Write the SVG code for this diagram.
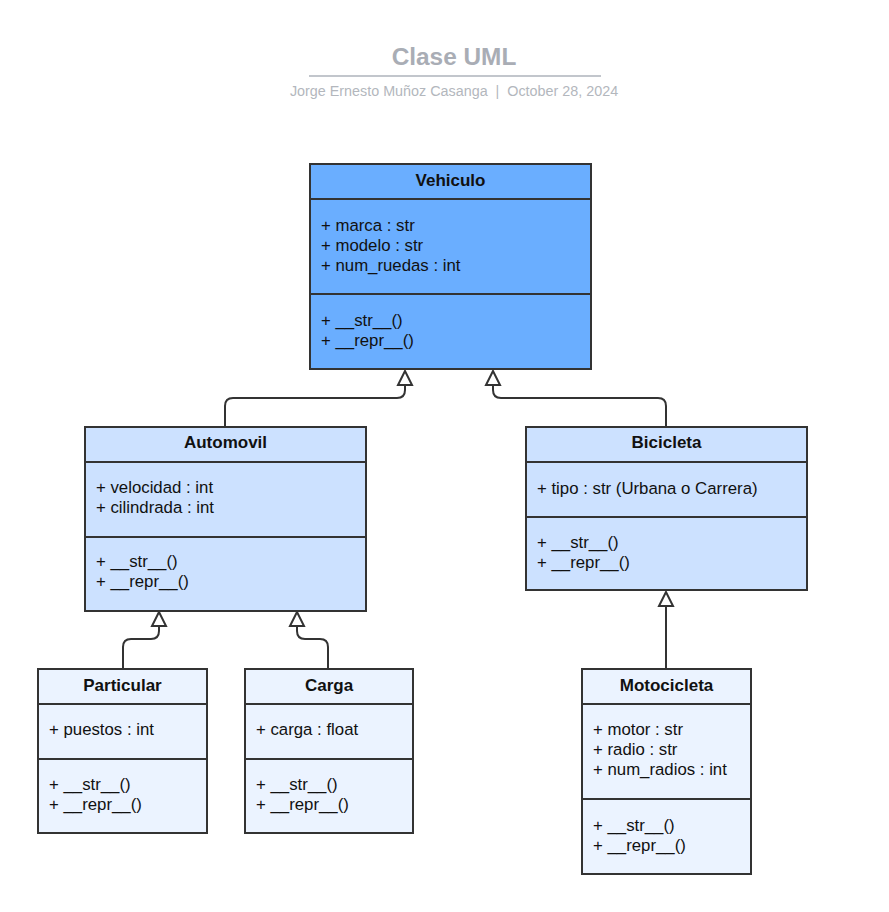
<svg xmlns="http://www.w3.org/2000/svg" width="889" height="912" viewBox="0 0 889 912">
<style>
text{font-family:"Liberation Sans",Arial,sans-serif;fill:#111;}
.t{font-size:17px;font-weight:bold;text-anchor:middle;}
.a{font-size:16.8px;}
.box{stroke:#333;stroke-width:2;}
.div{stroke:#333;stroke-width:2;}
.c1{fill:#6aaeff;}
.c2{fill:#cce1ff;}
.c3{fill:#ebf3ff;}
.conn{fill:none;stroke:#333;stroke-width:2;}
.head{fill:#fff;stroke:#333;stroke-width:2;stroke-linejoin:miter;}
</style>
<rect width="889" height="912" fill="#fff"/>
<g id="title">
<text x="454" y="65" style="font-size:24.4px;font-weight:bold;fill:#a9adb5;text-anchor:middle">Clase UML</text>
<line x1="309" y1="76" x2="601" y2="76" stroke="#c2c6cc" stroke-width="2"/>
<text x="454" y="96" style="font-size:14.35px;fill:#b3b7bd;text-anchor:middle;white-space:pre" xml:space="preserve">Jorge Ernesto Muñoz Casanga  |  October 28, 2024</text>
</g>
<g id="connectors">
<path class="conn" d="M225,427 V406 Q225,398 233,398 H397 Q405,398 405,390 V385"/>
<polygon class="head" points="405,371 398,385 412,385"/>
<path class="conn" d="M666,427 V406 Q666,398 658,398 H501 Q493,398 493,390 V385"/>
<polygon class="head" points="493,371 486,385 500,385"/>
<path class="conn" d="M123,668 V647 Q123,639 131,639 H151 Q159,639 159,631 V626"/>
<polygon class="head" points="159,612 152,626 166,626"/>
<path class="conn" d="M328,668 V647 Q328,639 320,639 H305 Q297,639 297,631 V626"/>
<polygon class="head" points="297,612 290,626 304,626"/>
<path class="conn" d="M666,668 V606"/>
<polygon class="head" points="666,592 659,606 673,606"/>
</g>
<g id="Vehiculo">
<rect class="box c1" x="310" y="164" width="281" height="205"/>
<line class="div" x1="310" y1="199" x2="591" y2="199"/>
<line class="div" x1="310" y1="294" x2="591" y2="294"/>
<text class="t" x="450.5" y="186">Vehiculo</text>
<text class="a" x="321" y="231">+ marca : str</text>
<text class="a" x="321" y="251">+ modelo : str</text>
<text class="a" x="321" y="271">+ num_ruedas : int</text>
<text class="a" x="321" y="326">+ __str__()</text>
<text class="a" x="321" y="346">+ __repr__()</text>
</g>
<g id="Automovil">
<rect class="box c2" x="85" y="427" width="281" height="184"/>
<line class="div" x1="85" y1="462" x2="366" y2="462"/>
<line class="div" x1="85" y1="537" x2="366" y2="537"/>
<text class="t" x="225.5" y="448">Automovil</text>
<text class="a" x="96" y="493">+ velocidad : int</text>
<text class="a" x="96" y="513">+ cilindrada : int</text>
<text class="a" x="96" y="567">+ __str__()</text>
<text class="a" x="96" y="587">+ __repr__()</text>
</g>
<g id="Bicicleta">
<rect class="box c2" x="526" y="427" width="281" height="163"/>
<line class="div" x1="526" y1="462" x2="807" y2="462"/>
<line class="div" x1="526" y1="517" x2="807" y2="517"/>
<text class="t" x="666.5" y="448">Bicicleta</text>
<text class="a" x="537" y="494">+ tipo : str (Urbana o Carrera)</text>
<text class="a" x="537" y="548">+ __str__()</text>
<text class="a" x="537" y="568">+ __repr__()</text>
</g>
<g id="Particular">
<rect class="box c3" x="38" y="669" width="169" height="164"/>
<line class="div" x1="38" y1="704" x2="207" y2="704"/>
<line class="div" x1="38" y1="759" x2="207" y2="759"/>
<text class="t" x="122.5" y="691">Particular</text>
<text class="a" x="49" y="735">+ puestos : int</text>
<text class="a" x="49" y="790">+ __str__()</text>
<text class="a" x="49" y="810">+ __repr__()</text>
</g>
<g id="Carga">
<rect class="box c3" x="245" y="669" width="168" height="164"/>
<line class="div" x1="245" y1="704" x2="413" y2="704"/>
<line class="div" x1="245" y1="759" x2="413" y2="759"/>
<text class="t" x="329" y="691">Carga</text>
<text class="a" x="256" y="735">+ carga : float</text>
<text class="a" x="256" y="790">+ __str__()</text>
<text class="a" x="256" y="810">+ __repr__()</text>
</g>
<g id="Motocicleta">
<rect class="box c3" x="582" y="669" width="169" height="205"/>
<line class="div" x1="582" y1="704" x2="751" y2="704"/>
<line class="div" x1="582" y1="799" x2="751" y2="799"/>
<text class="t" x="666.5" y="691">Motocicleta</text>
<text class="a" x="593" y="735">+ motor : str</text>
<text class="a" x="593" y="755">+ radio : str</text>
<text class="a" x="593" y="775">+ num_radios : int</text>
<text class="a" x="593" y="831">+ __str__()</text>
<text class="a" x="593" y="851">+ __repr__()</text>
</g>
</svg>
